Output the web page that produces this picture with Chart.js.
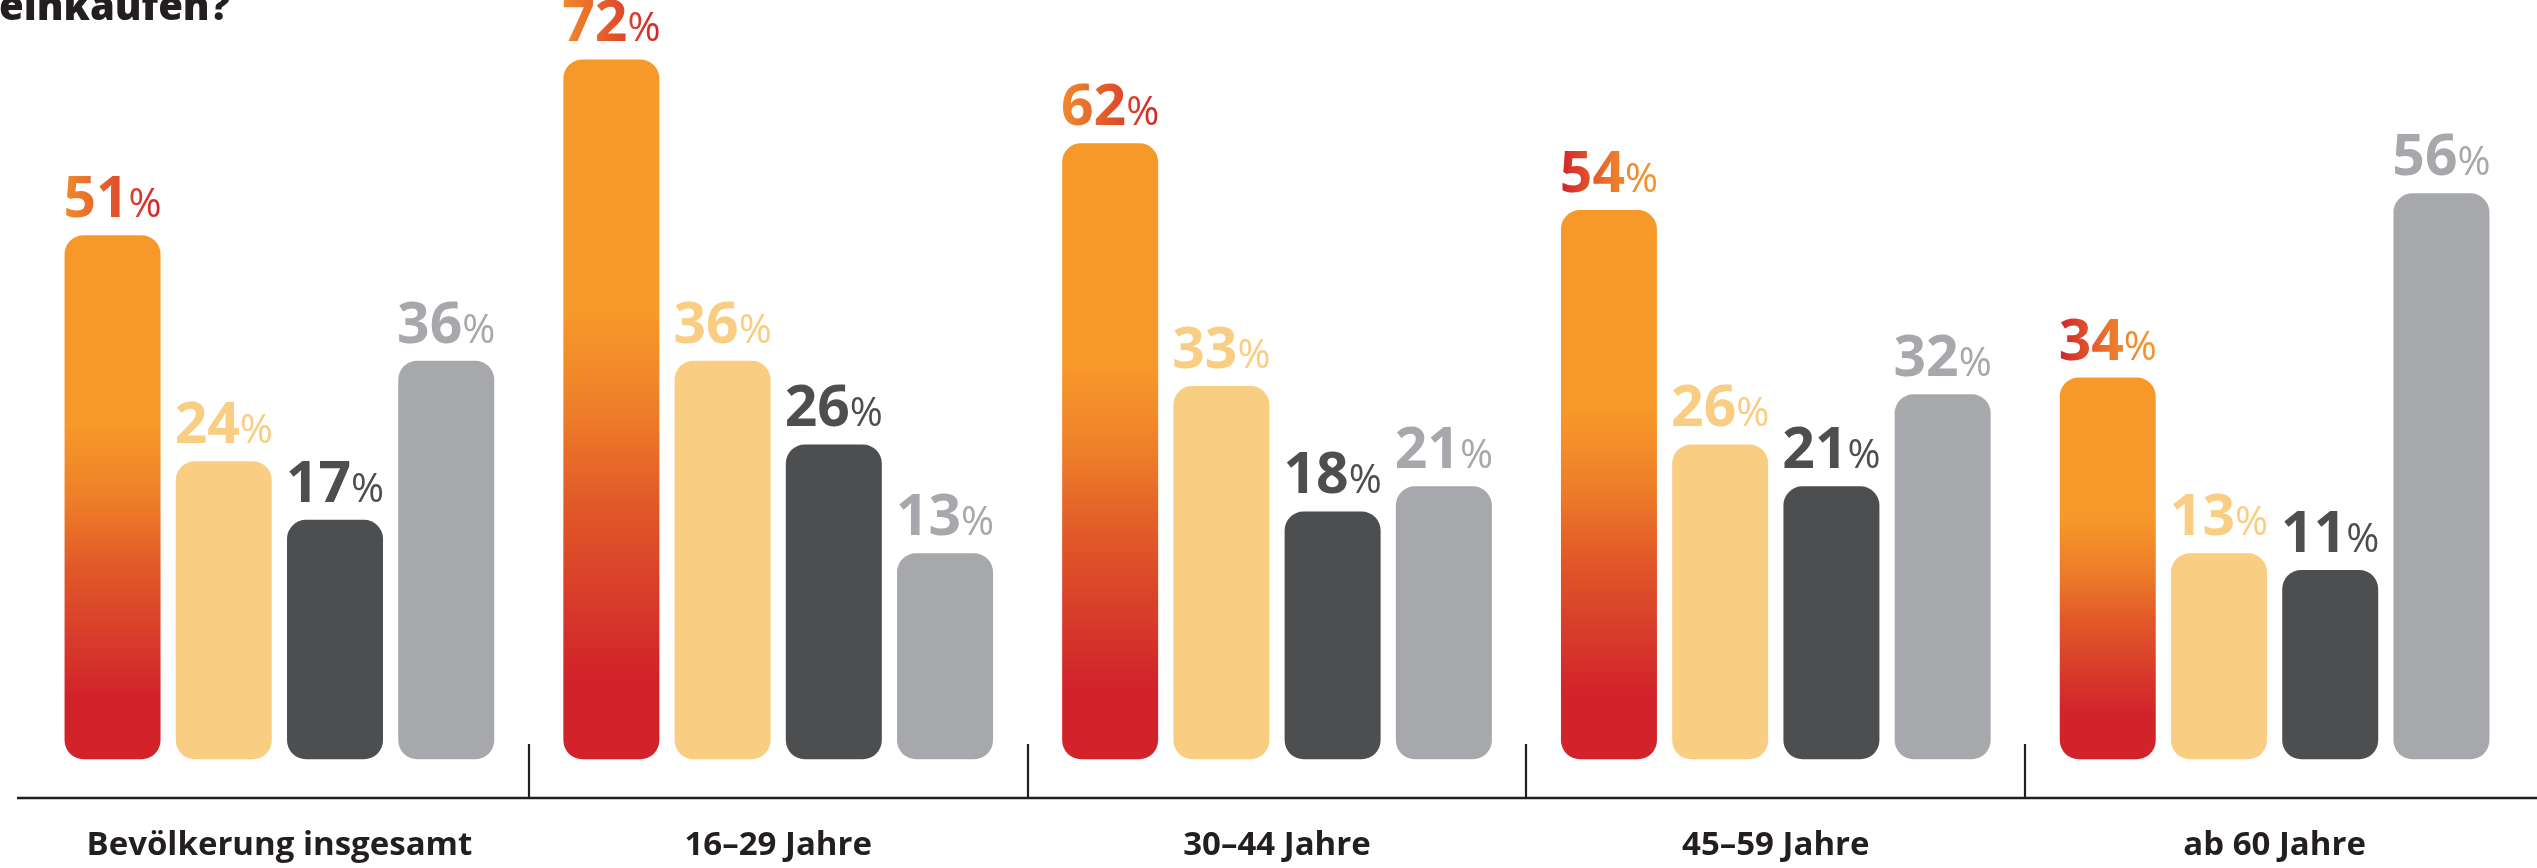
<!DOCTYPE html>
<html lang="de">
<head>
<meta charset="utf-8">
<title>einkaufen?</title>
<script src="https://cdn.jsdelivr.net/npm/chart.js@4.4.1/dist/chart.umd.min.js"></script>
<style>
  html, body { margin: 0; padding: 0; background: #fff; }
</style>
</head>
<body>
<canvas id="chart" width="2537" height="868"></canvas>
<script>
const categories = ['Bevölkerung insgesamt', '16–29 Jahre', '30–44 Jahre', '45–59 Jahre', 'ab 60 Jahre'];
const series1 = [51, 72, 62, 54, 34];
const series2 = [24, 36, 33, 26, 13];
const series3 = [17, 26, 18, 21, 11];
const series4 = [36, 13, 21, 32, 56];

// bars in the original don't start at zero, they sit on an offset base
const BAR_BASE = -11.6;

const INK = '#231f20';
const ORANGE = '#f7992a';
const RED = '#d2232a';
const colors = [ORANGE, '#f9cd82', '#4d4e50', '#a7a8ab'];
// label gradient goes orange->red, except the last two groups
const labelReversed = [false, false, false, true, true];

function orangeBar(context) {
    const chart = context.chart;
    const y = chart.scales.y;
    if (!chart.chartArea || !y || context.raw == null) return ORANGE;
    const top = y.getPixelForValue(context.raw);
    const bottom = y.getPixelForValue(BAR_BASE);
    if (!isFinite(top) || !isFinite(bottom) || bottom - top < 1) return ORANGE;
    const g = chart.ctx.createLinearGradient(0, top, 0, bottom);
    g.addColorStop(0, ORANGE);
    g.addColorStop(0.36, ORANGE);
    g.addColorStop(0.5, '#ee7f29');
    g.addColorStop(0.63, '#e25a28');
    g.addColorStop(0.76, '#d83e2a');
    g.addColorStop(0.88, RED);
    g.addColorStop(1, RED);
    return g;
}

const NUM_FONT = '700 57px "Open Sans"';
const PCT_FONT = '400 40px "Open Sans"';

const valueLabels = {
    id: 'valueLabels',
    afterDatasetsDraw(chart) {
        const ctx = chart.ctx;
        ctx.save();
        ctx.textAlign = 'left';
        ctx.textBaseline = 'alphabetic';
        chart.data.datasets.forEach((ds, di) => {
            const meta = chart.getDatasetMeta(di);
            meta.data.forEach((bar, i) => {
                const num = String(ds.data[i]);
                ctx.font = NUM_FONT;
                const wNum = ctx.measureText(num).width;
                ctx.font = PCT_FONT;
                const wPct = ctx.measureText('%').width;
                const gap = 0;
                const total = wNum + gap + wPct;
                const left = bar.x - total / 2;
                const baseY = bar.y - 18;

                let fill = colors[di];
                if (di === 0) {
                    const g = ctx.createLinearGradient(left, 0, left + total, 0);
                    if (labelReversed[i]) {
                        g.addColorStop(0, RED);
                        g.addColorStop(0.55, '#ec7b2b');
                        g.addColorStop(1, ORANGE);
                    } else {
                        g.addColorStop(0, '#f08c2c');
                        g.addColorStop(0.5, '#e2552a');
                        g.addColorStop(1, RED);
                    }
                    fill = g;
                }
                ctx.fillStyle = fill;
                ctx.font = NUM_FONT;
                ctx.fillText(num, left, baseY);
                ctx.font = PCT_FONT;
                ctx.fillText('%', left + wNum + gap, baseY);
            });
        });
        ctx.restore();
    }
};

const decor = {
    id: 'decor',
    afterDraw(chart) {
        const ctx = chart.ctx;
        const x = chart.scales.x;
        const lineY = 798;
        ctx.save();
        ctx.strokeStyle = INK;
        ctx.lineWidth = 2.5;
        ctx.beginPath();
        ctx.moveTo(17, lineY);
        ctx.lineTo(chart.width, lineY);
        ctx.stroke();

        // separators between the age groups
        ctx.lineWidth = 2.2;
        for (let i = 1; i < categories.length; i++) {
            const sx = Math.round((x.getPixelForValue(i - 1) + x.getPixelForValue(i)) / 2);
            ctx.beginPath();
            ctx.moveTo(sx, 744);
            ctx.lineTo(sx, lineY);
            ctx.stroke();
        }

        // last line of the question, cut off at the top
        ctx.fillStyle = INK;
        ctx.font = '800 40px "Open Sans"';
        ctx.textAlign = 'left';
        ctx.textBaseline = 'alphabetic';
        ctx.fillText('einkaufen?', -1, 20);
        ctx.restore();
    }
};

const seriesData = [series1, series2, series3, series4];

new Chart(document.getElementById('chart'), {
    type: 'bar',
    data: {
        labels: categories,
        datasets: seriesData.map((values, di) => ({
            label: 'Antwort ' + (di + 1),
            data: values,
            base: BAR_BASE,
            backgroundColor: di === 0 ? orangeBar : colors[di],
            borderWidth: 0,
            borderRadius: 19,
            borderSkipped: false,
            categoryPercentage: 0.892,
            barPercentage: 0.863
        }))
    },
    options: {
        responsive: false,
        animation: false,
        devicePixelRatio: 1,
        layout: { padding: { left: 30, right: 13, top: 0, bottom: 0 } },
        plugins: {
            legend: { display: false },
            tooltip: { enabled: false },
            title: { display: false }
        },
        scales: {
            x: {
                grid: { display: false, drawTicks: false },
                border: { display: false },
                ticks: {
                    color: INK,
                    padding: 0,
                    maxRotation: 0,
                    autoSkip: false,
                    font: { family: '"Open Sans"', size: 33, weight: '700', lineHeight: 44 / 33 }
                }
            },
            y: {
                display: false,
                min: -19.34,
                max: 79.1
            }
        }
    },
    plugins: [valueLabels, decor]
});
</script>
</body>
</html>
